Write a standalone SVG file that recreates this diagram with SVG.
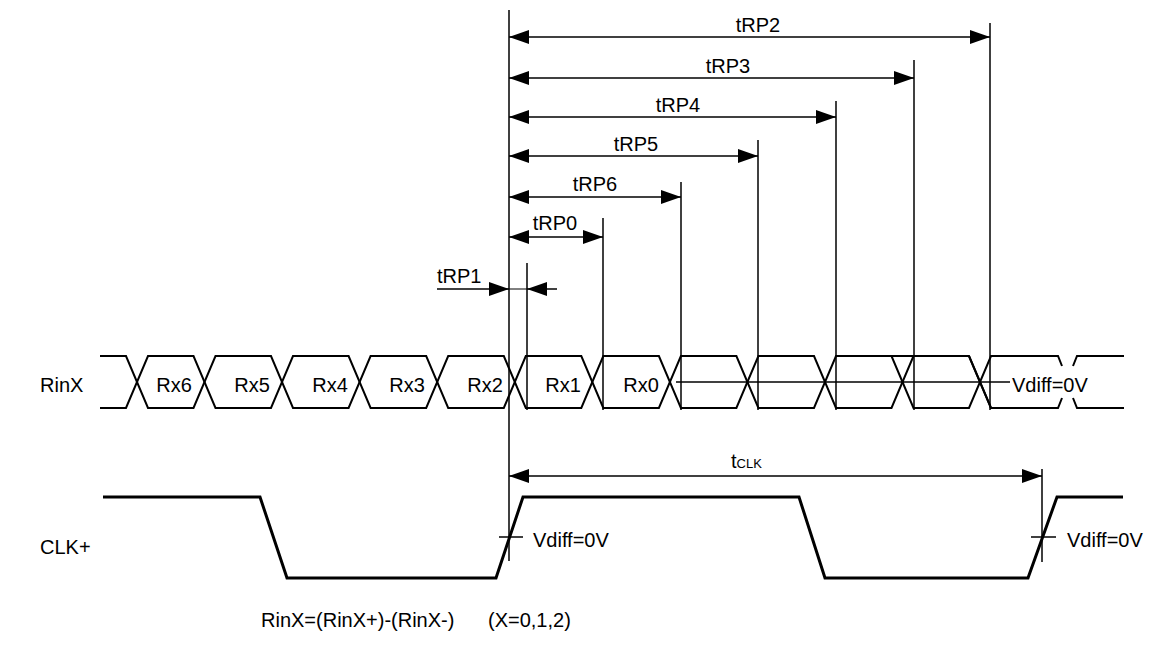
<svg xmlns="http://www.w3.org/2000/svg" width="1149" height="653" viewBox="0 0 1149 653">
<style>
text{font-family:"Liberation Sans",Arial,sans-serif;font-size:20px;fill:#000}
.v{stroke:#000;stroke-width:1.5;fill:none}
.d{stroke:#000;stroke-width:1.5;fill:none}
.w{stroke:#000;stroke-width:2;fill:none}
.c{stroke:#000;stroke-width:3;fill:none}
</style>
<defs>
<marker id="ah" markerWidth="20" markerHeight="14" refX="20" refY="7" orient="auto-start-reverse" markerUnits="userSpaceOnUse">
<path d="M0,0 L20,7 L0,14 Z" fill="#000"/>
</marker>
</defs>
<rect width="1149" height="653" fill="#fff"/>
<g id="labels">
<text x="40" y="392">RinX</text>
<text x="40" y="554">CLK+</text>
<text x="261" y="627">RinX=(RinX+)-(RinX-)</text>
<text x="488" y="627">(X=0,1,2)</text>
</g>
<g id="rinx">
<path class="w" d="M100,356 H126 L148,408 H193.5 L215.5,356 H271 L293,408 H348.6 L370.6,356 H426.2 L448.2,408 H503.8 L525.8,356 H581.3 L603.3,408 H658.9 L680.9,356 H736.4 L758.4,408 H814 L836,356 H891.5 L913.5,356 M891.5,408 M969,356 L991,408 H1058 L1062,398"/>
<path class="w" d="M100,408 H126 L148,356 H193.5 L215.5,408 H271 L293,356 H348.6 L370.6,408 H426.2 L448.2,356 H503.8 L525.8,408 H581.3 L603.3,356 H658.9 L680.9,408 H736.4 L758.4,356 H814 L836,408 H891.5 L913.5,356 H969 L991,408"/>
<path class="w" d="M836,356 H891.5 L913.5,408 H969 L991,356 H1058 L1062,366"/>
<path class="w" d="M1073,366 L1077,356 H1124"/>
<path class="w" d="M1073,398 L1077,408 H1124"/>
<line class="d" x1="676" y1="382" x2="1010" y2="382"/>
<text x="174" y="392" text-anchor="middle">Rx6</text>
<text x="252" y="392" text-anchor="middle">Rx5</text>
<text x="330" y="392" text-anchor="middle">Rx4</text>
<text x="407" y="392" text-anchor="middle">Rx3</text>
<text x="485" y="392" text-anchor="middle">Rx2</text>
<text x="563" y="392" text-anchor="middle">Rx1</text>
<text x="641" y="392" text-anchor="middle">Rx0</text>
<text x="1012" y="392">Vdiff=0V</text>
</g>
<g id="clk">
<path class="c" d="M103,497 H260 L287,578 H496 L523,497 H799 L825,578 H1028 L1057,497 H1123"/>
<line class="d" x1="499" y1="537" x2="523" y2="537"/>
<line class="d" x1="1031" y1="537" x2="1056" y2="537"/>
<text x="533" y="547">Vdiff=0V</text>
<text x="1067" y="547">Vdiff=0V</text>
</g>
<g id="connectors">
<line class="v" x1="509" y1="10" x2="509" y2="561"/>
<line class="v" x1="527" y1="263" x2="527" y2="410"/>
<line class="v" x1="603" y1="218" x2="603" y2="410"/>
<line class="v" x1="681" y1="182" x2="681" y2="410"/>
<line class="v" x1="758" y1="140" x2="758" y2="410"/>
<line class="v" x1="836" y1="101" x2="836" y2="410"/>
<line class="v" x1="914" y1="60" x2="914" y2="410"/>
<line class="v" x1="990" y1="23" x2="990" y2="410"/>
<line class="v" x1="1042" y1="469" x2="1042" y2="562"/>
<line class="d" x1="509" y1="37" x2="990" y2="37" marker-start="url(#ah)" marker-end="url(#ah)"/>
<line class="d" x1="509" y1="78" x2="914" y2="78" marker-start="url(#ah)" marker-end="url(#ah)"/>
<line class="d" x1="509" y1="117" x2="836" y2="117" marker-start="url(#ah)" marker-end="url(#ah)"/>
<line class="d" x1="509" y1="156" x2="758" y2="156" marker-start="url(#ah)" marker-end="url(#ah)"/>
<line class="d" x1="509" y1="197" x2="681" y2="197" marker-start="url(#ah)" marker-end="url(#ah)"/>
<line class="d" x1="509" y1="237" x2="603" y2="237" marker-start="url(#ah)" marker-end="url(#ah)"/>
<line class="d" x1="437" y1="289" x2="509" y2="289" marker-end="url(#ah)"/>
<line class="d" x1="557" y1="289" x2="527" y2="289" marker-end="url(#ah)"/>
<line class="d" x1="509" y1="289" x2="527" y2="289" style="stroke-width:1"/>
<line class="d" x1="509" y1="476" x2="1042" y2="476" marker-start="url(#ah)" marker-end="url(#ah)"/>
<text x="758" y="32" text-anchor="middle">tRP2</text>
<text x="728" y="73" text-anchor="middle">tRP3</text>
<text x="678" y="112" text-anchor="middle">tRP4</text>
<text x="636" y="151" text-anchor="middle">tRP5</text>
<text x="595" y="191" text-anchor="middle">tRP6</text>
<text x="555" y="230" text-anchor="middle">tRP0</text>
<text x="437" y="283">tRP1</text>
<text x="731" y="468">t<tspan font-size="13">CLK</tspan></text>
</g>
</svg>
